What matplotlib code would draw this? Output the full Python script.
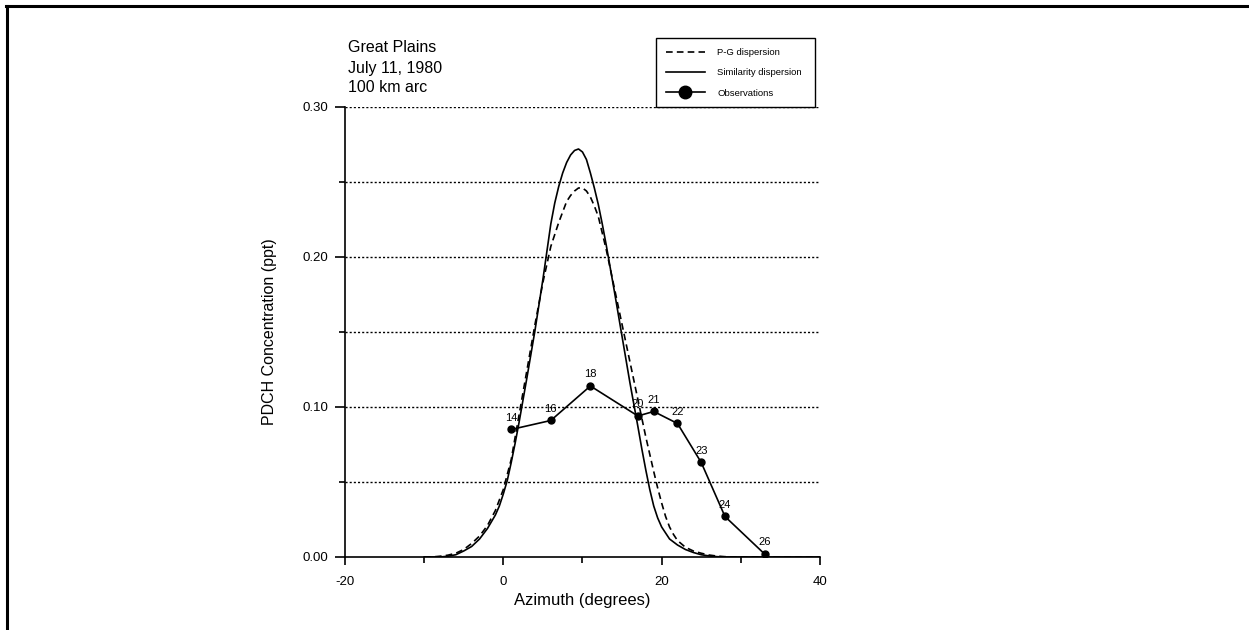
import matplotlib
matplotlib.use("Agg")
import matplotlib.pyplot as plt
from matplotlib.lines import Line2D

plt.rcParams['font.family'] = ['Liberation Sans', 'DejaVu Sans']
plt.rcParams['axes.unicode_minus'] = False

# Similarity dispersion curve
sim_x = [-10, -8, -7, -6, -5, -4, -3, -2, -1, -0.5, 0, 0.5, 1, 1.5, 2, 3, 4,
         5, 6, 6.5, 7, 7.5, 8, 8.5, 9, 9.5, 10, 10.5, 11, 11.5, 12, 12.5, 13,
         14, 15, 16, 17, 17.5, 18, 18.5, 19, 19.5, 20, 20.5, 21, 22, 23, 24,
         25, 26, 27, 28, 40]
sim_y = [0.0, 0.0, 0.0005, 0.0015, 0.004, 0.007, 0.012, 0.019, 0.028, 0.034,
         0.042, 0.051, 0.063, 0.076, 0.090, 0.120, 0.151, 0.185, 0.222,
         0.236, 0.247, 0.256, 0.263, 0.268, 0.271, 0.272, 0.270, 0.265,
         0.256, 0.246, 0.235, 0.222, 0.208, 0.178, 0.147, 0.116, 0.087,
         0.072, 0.058, 0.045, 0.034, 0.026, 0.020, 0.016, 0.012, 0.008,
         0.005, 0.003, 0.0015, 0.0007, 0.0002, 0.0, 0.0]

# P-G dispersion curve
pg_x = [-10, -9, -8, -7, -6, -5, -4, -3, -2, -1, 0, 1, 2, 3, 4, 5, 6, 7, 7.5,
        8, 8.5, 9, 9.5, 10, 10.5, 11, 11.5, 12, 13, 14, 15, 16, 17, 18, 19,
        19.5, 20, 20.5, 21, 21.5, 22, 23, 24, 25, 26, 27, 28, 29, 40]
pg_y = [0.0, 0.0, 0.0005, 0.0012, 0.0025, 0.005, 0.009, 0.014, 0.021, 0.031,
        0.045, 0.065, 0.095, 0.125, 0.155, 0.183, 0.207, 0.223, 0.230,
        0.237, 0.241, 0.244, 0.246, 0.246, 0.244, 0.240, 0.234, 0.227,
        0.205, 0.180, 0.155, 0.130, 0.105, 0.080, 0.057, 0.046, 0.036,
        0.027, 0.020, 0.015, 0.011, 0.0065, 0.004, 0.0025, 0.0013, 0.0006,
        0.0002, 0.0, 0.0]

# Observations with sampler numbers
obs_x = [1, 6, 11, 17, 19, 22, 25, 28, 33]
obs_y = [0.085, 0.091, 0.114, 0.094, 0.097, 0.089, 0.063, 0.027, 0.002]
obs_lab = ['14', '16', '18', '20', '21', '22', '23', '24', '26']

fig = plt.figure(figsize=(12.49, 6.3), dpi=100)
ax = fig.add_axes([0.2762, 0.1159, 0.3803, 0.7143])

ax.set_xlim(-20, 40)
ax.set_ylim(0, 0.30)

# dotted horizontal grid
for g in [0.05, 0.10, 0.15, 0.20, 0.25, 0.30]:
    ax.axhline(g, color='black', lw=1.0, ls=(0, (1.5, 1.5)), zorder=1)

ax.plot(pg_x, pg_y, color='black', lw=1.2, ls=(0, (4, 2.5)),
        label='P-G dispersion', zorder=3)
ax.plot(sim_x, sim_y, color='black', lw=1.2, label='Similarity dispersion',
        zorder=3)
ax.plot(obs_x, obs_y, color='black', lw=1.2, marker='o', markersize=5,
        label='Observations', zorder=4)

for x, y, t in zip(obs_x, obs_y, obs_lab):
    ax.annotate(t, (x, y), xytext=(0, 5), textcoords='offset points',
                ha='center', va='bottom', fontsize=8)

ax.spines['top'].set_visible(False)
ax.spines['right'].set_visible(False)
ax.spines['left'].set_linewidth(1.2)
ax.spines['bottom'].set_linewidth(1.2)

ax.set_xticks([-20, 0, 20, 40])
ax.set_xticks([-10, 10, 30], minor=True)
ax.set_yticks([0.0, 0.1, 0.2, 0.3])
ax.set_yticks([0.05, 0.15, 0.25], minor=True)
ax.set_yticklabels(['0.00', '0.10', '0.20', '0.30'])
ax.tick_params(axis='y', which='major', length=7, width=1.2, labelsize=9.5, pad=5)
ax.tick_params(axis='y', which='minor', length=4, width=1.2)
ax.tick_params(axis='x', which='major', length=6, width=1.2, labelsize=9.5, pad=8)
ax.tick_params(axis='x', which='minor', length=4, width=1.2)

ax.set_xlabel('Azimuth (degrees)', fontsize=12, labelpad=3)
ax.set_ylabel('PDCH Concentration (ppt)', fontsize=11.5, labelpad=18)

ax.legend(loc='lower left', bbox_to_anchor=(0.655, 1.0, 0.334, 0.149),
          mode='expand', borderaxespad=0, fontsize=6.8, labelspacing=1.2,
          handlelength=4.2, handletextpad=1.3, borderpad=1.0,
          fancybox=False, edgecolor='black', framealpha=1, markerscale=1.8)

fig.text(348 / 1249, 1 - 48 / 630, 'Great Plains', fontsize=11.5, va='center')
fig.text(348 / 1249, 1 - 68 / 630, 'July 11, 1980', fontsize=11.5, va='center')
fig.text(348 / 1249, 1 - 88 / 630, '100 km arc', fontsize=11.5, va='center')

# page border (top and left)
fig.add_artist(Line2D([6 / 1249, 1], [1 - 5.5 / 630, 1 - 5.5 / 630],
                      color='black', lw=2.2, transform=fig.transFigure))
fig.add_artist(Line2D([7 / 1249, 7 / 1249], [0, 1 - 5.5 / 630],
                      color='black', lw=2.2, transform=fig.transFigure))

fig.savefig('out.png', dpi=100)
